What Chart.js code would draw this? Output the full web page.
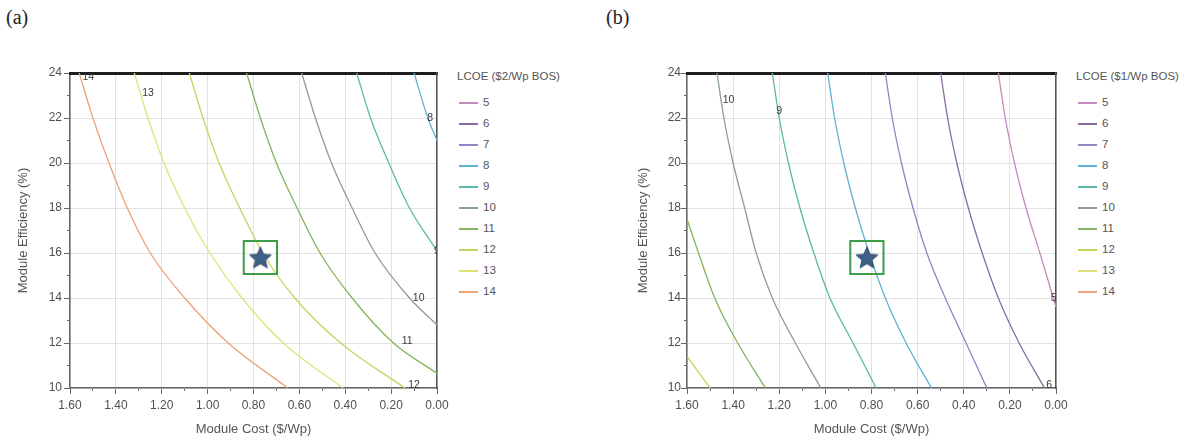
<!DOCTYPE html>
<html>
<head>
<meta charset="utf-8">
<script src="https://cdn.jsdelivr.net/npm/chart.js@4.4.1/dist/chart.umd.min.js"></script>
<style>
  body { margin: 0; background: #fff; width: 1191px; height: 443px; overflow: hidden; position: relative;
         font-family: "Liberation Sans", Arial, sans-serif; }
  .tag { position: absolute; top: 6px; font: 20px "Liberation Serif", serif; color: #222; }
  canvas { position: absolute; top: 40px; }
  .lg { position: absolute; font-size: 11.5px; color: #555; white-space: nowrap; }
  .lgline { position: absolute; width: 19px; height: 1.5px; }
</style>
</head>
<body>
<div class="tag" style="left:6px">(a)</div>
<div class="tag" style="left:606px">(b)</div>
<canvas id="chartA" width="450" height="403" style="left:0px"></canvas>
<canvas id="chartB" width="470" height="403" style="left:600px"></canvas>
<div id="legendA"></div>
<div id="legendB"></div>

<script>
// LCOE contour levels and their colours (shared legend)
const lcoeLevels = [5, 6, 7, 8, 9, 10, 11, 12, 13, 14];
const lcoeColors = ['#c58bbd', '#8a6ca4', '#8a88c6', '#62b2d4', '#5db7ab',
                    '#8a9e9a', '#84b45c', '#c8d35e', '#e2e27a', '#eea274'];

// panel (a): $2/Wp BOS, points are [module cost $/Wp, module efficiency %]
const curveA8  = [[0.10, 24], [0.04, 22], [0, 21.0]];
const curveA9  = [[0.35, 24], [0.29, 22], [0.21, 20], [0.12, 18], [0, 16.1]];
const curveA10 = [[0.59, 24], [0.53, 22], [0.46, 20], [0.37, 18], [0.27, 16], [0.12, 14], [0, 12.8]];
const curveA11 = [[0.83, 24], [0.77, 22], [0.70, 20], [0.61, 18], [0.51, 16], [0.37, 14], [0.19, 12], [0, 10.65]];
const curveA12 = [[1.08, 24], [1.02, 22], [0.95, 20], [0.86, 18], [0.76, 16], [0.62, 14], [0.42, 12], [0.14, 10]];
const curveA13 = [[1.32, 24], [1.26, 22], [1.19, 20], [1.10, 18], [0.99, 16], [0.85, 14], [0.67, 12], [0.41, 10]];
const curveA14 = [[1.56, 24], [1.50, 22], [1.43, 20], [1.35, 18], [1.25, 16], [1.10, 14], [0.91, 12], [0.65, 10]];

// panel (b): $1/Wp BOS
const curveB5  = [[0.25, 24], [0.22, 22], [0.18, 20], [0.13, 18], [0.07, 16], [0, 13.6]];
const curveB6  = [[0.50, 24], [0.47, 22], [0.43, 20], [0.38, 18], [0.32, 16], [0.25, 14], [0.16, 12], [0.05, 10]];
const curveB7  = [[0.74, 24], [0.71, 22], [0.67, 20], [0.62, 18], [0.56, 16], [0.48, 14], [0.39, 12], [0.30, 10]];
const curveB8  = [[0.99, 24], [0.96, 22], [0.92, 20], [0.87, 18], [0.81, 16], [0.74, 14], [0.65, 12], [0.54, 10]];
const curveB9  = [[1.23, 24], [1.20, 22], [1.16, 20], [1.11, 18], [1.05, 16], [0.98, 14], [0.88, 12], [0.78, 10]];
const curveB10 = [[1.47, 24], [1.44, 22], [1.40, 20], [1.35, 18], [1.30, 16], [1.23, 14], [1.13, 12], [1.02, 10]];
const curveB11 = [[1.60, 17.5], [1.55, 16], [1.48, 14], [1.38, 12], [1.26, 10]];
const curveB12 = [[1.60, 11.4], [1.50, 10]];

// inline contour labels [text, cost, efficiency]
const labelsA = [['14', 1.52, 23.8], ['13', 1.26, 23.1], ['8', 0.03, 22.0], ['9', 0.0, 16.1],
                 ['10', 0.08, 14.0], ['11', 0.13, 12.1], ['12', 0.10, 10.15]];
const labelsB = [['10', 1.42, 22.8], ['9', 1.20, 22.3], ['5', 0.01, 14.0], ['6', 0.03, 10.15]];

// current-technology marker
const starA = [0.77, 15.8];
const starB = [0.82, 15.8];

const legendTitleA = 'LCOE ($2/Wp BOS)';
const legendTitleB = 'LCOE ($1/Wp BOS)';

const colorOf = lvl => lcoeColors[lcoeLevels.indexOf(lvl)];

function makeStar(size) {
  const c = document.createElement('canvas');
  c.width = c.height = size;
  const g = c.getContext('2d');
  const cx = size / 2, cy = size / 2 + 1, ro = size / 2 - 1.5, ri = ro * 0.45;
  g.beginPath();
  for (let i = 0; i < 10; i++) {
    const r = i % 2 ? ri : ro;
    const a = -Math.PI / 2 + i * Math.PI / 5;
    g.lineTo(cx + r * Math.cos(a), cy + r * Math.sin(a));
  }
  g.closePath();
  g.fillStyle = '#3f6087';
  g.fill();
  g.strokeStyle = '#2b4563';
  g.lineWidth = 1;
  g.stroke();
  return c;
}
const starImg = makeStar(26);

const contourLabels = {
  id: 'contourLabels',
  afterDatasetsDraw(chart, args, opts) {
    const { ctx, chartArea: a, scales: { x, y } } = chart;
    ctx.save();
    ctx.beginPath();
    ctx.rect(a.left, a.top, a.right - a.left, a.bottom - a.top);
    ctx.clip();
    ctx.font = '10.5px "Liberation Sans", Arial';
    ctx.textAlign = 'center';
    ctx.textBaseline = 'middle';
    ctx.fillStyle = '#3a3a3a';
    opts.items.forEach(([t, cx, cy]) => {
      ctx.fillText(t, x.getPixelForValue(cx), y.getPixelForValue(cy));
    });
    ctx.restore();
  }
};

const font12 = { size: 12, family: '"Liberation Sans", Arial' };
const font13 = { size: 13, family: '"Liberation Sans", Arial' };

// pin an axis to a fixed size and drop the label-overflow padding Chart.js adds
const pinH = h => s => { s.height = h; s.paddingLeft = 0; s.paddingRight = 0; };
const pinW = w => s => { s.width = w; s.paddingTop = 0; s.paddingBottom = 0; };

function makePanel(id, curves, labels, star, axisW, titlePad, tickPad, padRight) {
  const datasets = [
    { data: [{ x: star[0], y: star[1] }], pointStyle: starImg, pointRadius: 13, order: -2 },
    { data: [{ x: star[0], y: star[1] }], pointStyle: 'rect', pointRadius: 23.5, borderColor: '#3c9c48',
      borderWidth: 2, backgroundColor: 'rgba(0,0,0,0)', order: -1 }
  ];
  curves.forEach(([lvl, pts]) => {
    datasets.push({
      data: pts.map(p => ({ x: p[0], y: p[1] })),
      showLine: true, borderColor: colorOf(lvl), borderWidth: 1.3,
      pointRadius: 0, cubicInterpolationMode: 'monotone', fill: false
    });
  });

  new Chart(document.getElementById(id), {
    type: 'scatter',
    data: { datasets },
    plugins: [contourLabels],
    options: {
      responsive: false,
      animation: false,
      layout: { autoPadding: false, padding: { top: 33, right: padRight, left: 0, bottom: 0 } },
      plugins: {
        legend: { display: false },
        tooltip: { enabled: false },
        contourLabels: { items: labels }
      },
      scales: {
        x: {
          type: 'linear', position: 'bottom', reverse: true, min: 0, max: 1.6,
          ticks: { stepSize: 0.2, autoSkip: false, maxRotation: 0, color: '#4f4f4f', padding: 4,
                   font: font12, callback: v => v.toFixed(2) },
          grid: { color: '#e2e2e2', tickColor: '#666', tickLength: 6 },
          border: { color: '#666', width: 1.5 },
          title: { display: true, text: 'Module Cost ($/Wp)', color: '#555', font: font13, padding: { bottom: 6 } },
          afterFit: pinH(55)
        },
        xMinor: {
          type: 'linear', position: 'bottom', reverse: true, min: 0, max: 1.6, weight: -1,
          ticks: { stepSize: 0.1, autoSkip: false, display: false },
          grid: { drawOnChartArea: false, tickColor: '#666', tickLength: 3 },
          border: { display: false },
          afterFit: pinH(0)
        },
        y: {
          type: 'linear', position: 'left', min: 10, max: 24,
          ticks: { stepSize: 2, autoSkip: false, color: '#4f4f4f', padding: tickPad, font: font12 },
          grid: { color: '#e2e2e2', tickColor: '#666', tickLength: 6 },
          border: { color: '#666', width: 1.5 },
          title: { display: true, text: 'Module Efficiency (%)', color: '#555', font: font13, padding: { top: titlePad } },
          afterFit: pinW(axisW)
        },
        yMinor: {
          type: 'linear', position: 'left', min: 10, max: 24, weight: -1,
          ticks: { stepSize: 1, autoSkip: false, display: false },
          grid: { drawOnChartArea: false, tickColor: '#666', tickLength: 3 },
          border: { display: false },
          afterFit: pinW(0)
        },
        xTop: {
          type: 'linear', position: 'top', reverse: true, min: 0, max: 1.6,
          ticks: { display: false }, grid: { display: false },
          border: { color: '#1e1e1e', width: 3 },
          afterFit: pinH(0)
        },
        yRight: {
          type: 'linear', position: 'right', min: 10, max: 24,
          ticks: { display: false }, grid: { display: false },
          border: { color: '#555', width: 1.5 },
          afterFit: pinW(0)
        }
      }
    }
  });
}

function makeLegend(elId, title, left) {
  const el = document.getElementById(elId);
  let html = '<div class="lg" style="left:' + left + 'px;top:70px">' + title + '</div>';
  lcoeLevels.forEach((lvl, i) => {
    const cy = 103 + i * 21;
    html += '<div class="lgline" style="left:' + (left + 2) + 'px;top:' + (cy - 1) + 'px;background:' + lcoeColors[i] + '"></div>';
    html += '<div class="lg" style="left:' + (left + 26) + 'px;top:' + (cy - 7) + 'px">' + lvl + '</div>';
  });
  el.innerHTML = html;
}

makePanel('chartA',
  [[8, curveA8], [9, curveA9], [10, curveA10], [11, curveA11], [12, curveA12], [13, curveA13], [14, curveA14]],
  labelsA, starA, 70, 16, 2, 13);
makePanel('chartB',
  [[5, curveB5], [6, curveB6], [7, curveB7], [8, curveB8], [9, curveB9], [10, curveB10], [11, curveB11], [12, curveB12]],
  labelsB, starB, 87, 36, 0, 14);

makeLegend('legendA', legendTitleA, 457);
makeLegend('legendB', legendTitleB, 1076);
</script>
</body>
</html>
